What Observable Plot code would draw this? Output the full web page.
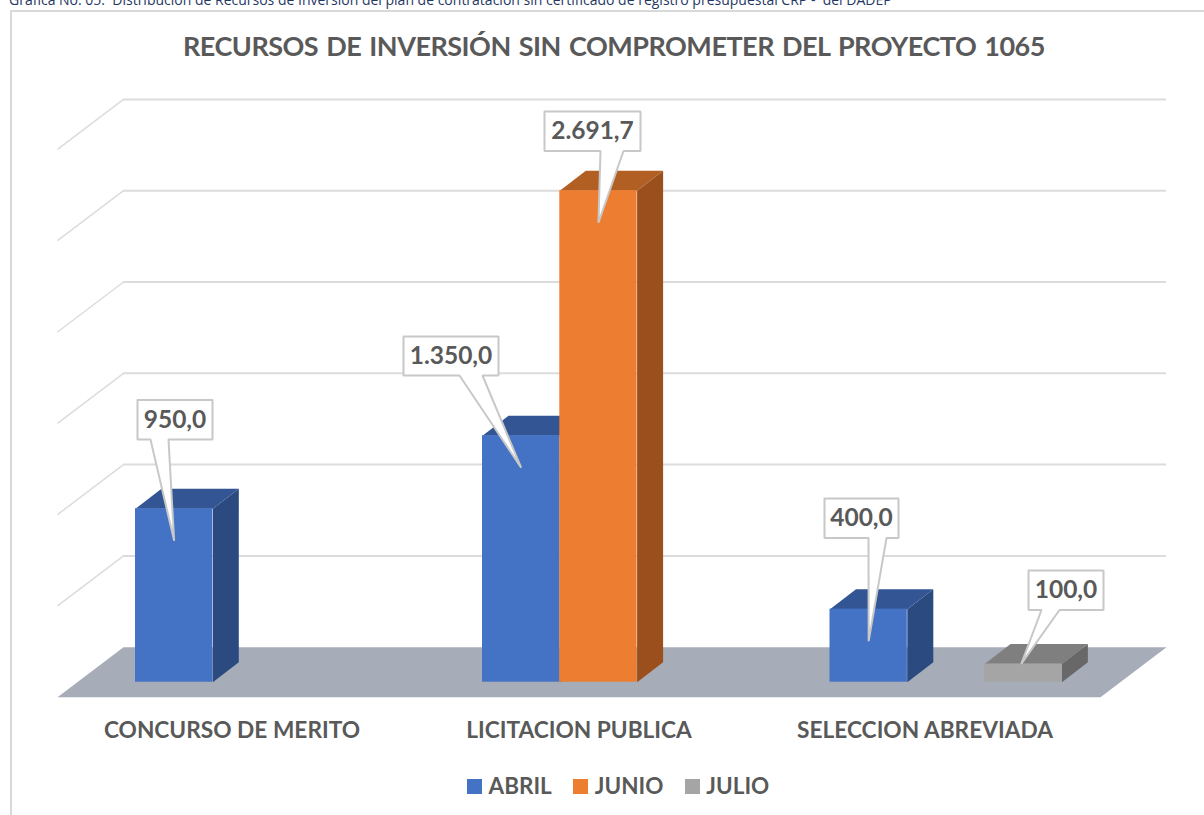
<!DOCTYPE html>
<html><head><meta charset="utf-8">
<script src="https://cdn.jsdelivr.net/npm/d3@7"></script>
<script src="https://cdn.jsdelivr.net/npm/@observablehq/plot@0.6"></script>
<style>
html,body{margin:0;padding:0;background:#fff;overflow:hidden;width:1204px;height:815px}
#wrap{position:relative;width:1204px;height:815px;overflow:hidden;font-family:Lato,sans-serif}
#frame{position:absolute;left:10px;top:9.5px;width:1200px;height:820px;border-left:2px solid #d9d9d9;border-top:2px solid #d9d9d9}
#cap{position:absolute;left:9px;top:-10px;font:14px/20px "Open Sans",sans-serif;color:#1f3864;white-space:pre}
#title{position:absolute;left:183px;top:30px;font-weight:700;font-size:27px;line-height:32px;color:#595959;white-space:pre;letter-spacing:-.5px;word-spacing:2px}
#chart{position:absolute;left:0;top:0}
#legend{position:absolute;left:467px;top:772px;display:flex;font-weight:700;font-size:22.5px;line-height:28px;color:#595959}
#legend span.i{display:flex;align-items:center;margin-right:21.5px}
#legend i{display:inline-block;width:15px;height:15px;margin-right:6.5px}
</style></head><body>
<div id="wrap">
<div id="frame"></div>
<div id="cap">Gráfica No. 05.  Distribución de Recursos de Inversión del plan de contratación sin certificado de registro presupuestal CRP -  del DADEP</div>
<div id="title">RECURSOS DE INVERSIÓN SIN COMPROMETER DEL PROYECTO 1065</div>
<div id="chart"></div>
<div id="legend"></div>
</div>
<script>
// ---- data
const categories = ["CONCURSO DE MERITO", "LICITACION PUBLICA", "SELECCION ABREVIADA"];
const seriesNames = ["ABRIL", "JUNIO", "JULIO"];
const abril = [950, 1350, 400];
const junio = [null, 2691.7, null];
const julio = [null, null, 100];
const gridTicks = [500, 1000, 1500, 2000, 2500, 3000];

// ---- style
const faces = {
  ABRIL: {front: "#4472c4", top: "#335593", side: "#2b4a80"},
  JUNIO: {front: "#ed7d31", top: "#b25f24", side: "#9a4f1c"},
  JULIO: {front: "#a5a5a5", top: "#7f7f7f", side: "#686868"}
};

// ---- layout: x is in page pixels, y is in chart value units
const pxPerUnit = 0.1826, baseY = 681.7;
const dy = px => px / pxPerUnit;            // pixel height -> value units
const yAt = px => (baseY - px) / pxPerUnit; // page y -> value units
const catX = [135, 482, 829.5], barW = 77.3, depthX = 26, depthV = dy(20);
const wallL = 57, wallBackL = 123, wallBackR = 1166, floorFrontR = 1100;
const floorFront = yAt(696.7), floorBack = yAt(646.7);

const series = [abril, junio, julio];
const bars = [];
seriesNames.forEach((s, si) => categories.forEach((c, ci) => {
  const v = series[si][ci];
  if (v == null) return;
  const x1 = catX[ci] + si * barW;
  bars.push({s, c, v, x1, x2: x1 + barW, ...faces[s]});
}));

const poly = (id, fill, pts) => pts.map(([x, y]) => ({id, fill, x, y}));
const topFaces = bars.flatMap((b, i) => poly("t" + i, b.top, [
  [b.x1, b.v], [b.x1 + depthX, b.v + depthV], [b.x2 + depthX, b.v + depthV], [b.x2, b.v]]));
const sideFaces = bars.flatMap((b, i) => poly("s" + i, b.side, [
  [b.x2, 0], [b.x2 + depthX, depthV], [b.x2 + depthX, b.v + depthV], [b.x2, b.v]]));
const floor = poly("floor", "#a6adb9", [
  [wallL, floorFront], [wallBackL, floorBack], [wallBackR, floorBack], [floorFrontR, floorFront]]);

// callouts: box [left, right, top, bottom], pointer base [left, right], tip depth below bar top
const fmt = v => {
  const [a, b] = v.toFixed(1).split(".");
  return a.replace(/\B(?=(\d{3})+$)/g, ".") + "," + b;
};
const boxes = {
  "950": [137, 212, 399.5, 439, 150, 168, 32],
  "1350": [403, 498, 336, 375, 459, 482, 32],
  "2691.7": [544, 640, 111, 150.5, 600, 623, 32],
  "400": [824, 898, 498, 537.5, 868, 886, 32],
  "100": [1028, 1103, 570, 609.5, 1041, 1059, 0]
};
const callouts = bars.map(b => {
  const [l, r, t, bt, pl, pr, tipD] = boxes[String(b.v)];
  const tipX = (b.x1 + b.x2) / 2 - (b.v === 100 ? 2 : 0);
  return {b, l, r, t, bt, pts: [[l, t], [r, t], [r, bt], [pr, bt], [tipX, b.v - dy(tipD)], [pl, bt], [l, bt], [l, t]]
    .map(([x, y], k) => ({id: String(b.v), x, y: k === 4 ? y : yAt(y)}))};
});

const lineFill = (data) => Plot.line(data, {x: "x", y: "y", z: "id", fill: "fill", stroke: null, curve: "linear"});

const svg = Plot.plot({
  width: 1204, height: 815, margin: 0,
  style: {background: "transparent", overflow: "visible"},
  x: {domain: [0, 1204], range: [0, 1204], axis: null},
  y: {domain: [0, 3000], range: [baseY, baseY - 3000 * pxPerUnit], axis: null},
  marks: [
    lineFill(floor),
    Plot.ruleY(gridTicks, {y: d => d + floorBack, x1: wallBackL, x2: wallBackR, stroke: "#dcdcdc", strokeWidth: 2}),
    Plot.link(gridTicks, {x1: wallL, x2: wallBackL, y1: d => d + floorFront, y2: d => d + floorBack, stroke: "#dcdcdc", strokeWidth: 1.5}),
    lineFill(sideFaces),
    lineFill(topFaces),
    Plot.rect(bars, {x1: "x1", x2: "x2", y1: 0, y2: "v", fill: "front"}),
    Plot.line(callouts.flatMap(c => c.pts), {x: "x", y: "y", z: "id", fill: "#fff", stroke: "#c8c8c8", strokeWidth: 2, strokeLinejoin: "miter"}),
    Plot.text(callouts, {
      x: c => (c.l + c.r) / 2, y: c => yAt((c.t + c.bt) / 2), text: c => fmt(c.b.v),
      fontFamily: "Lato, sans-serif", fontWeight: 700, fontSize: 24.5, fill: "#595959"
    }),
    Plot.text(categories, {
      x: (d, i) => [231.5, 578.5, 924.5][i], y: yAt(730), text: d => d,
      fontFamily: "Lato, sans-serif", fontWeight: 700, fontSize: 22.7, fill: "#595959"
    })
  ]
});
document.getElementById("chart").append(svg);

const lg = document.getElementById("legend");
seriesNames.forEach(s => {
  const e = document.createElement("span");
  e.className = "i";
  e.innerHTML = `<i style="background:${faces[s].front}"></i>${s}`;
  lg.append(e);
});
</script>
</body></html>
